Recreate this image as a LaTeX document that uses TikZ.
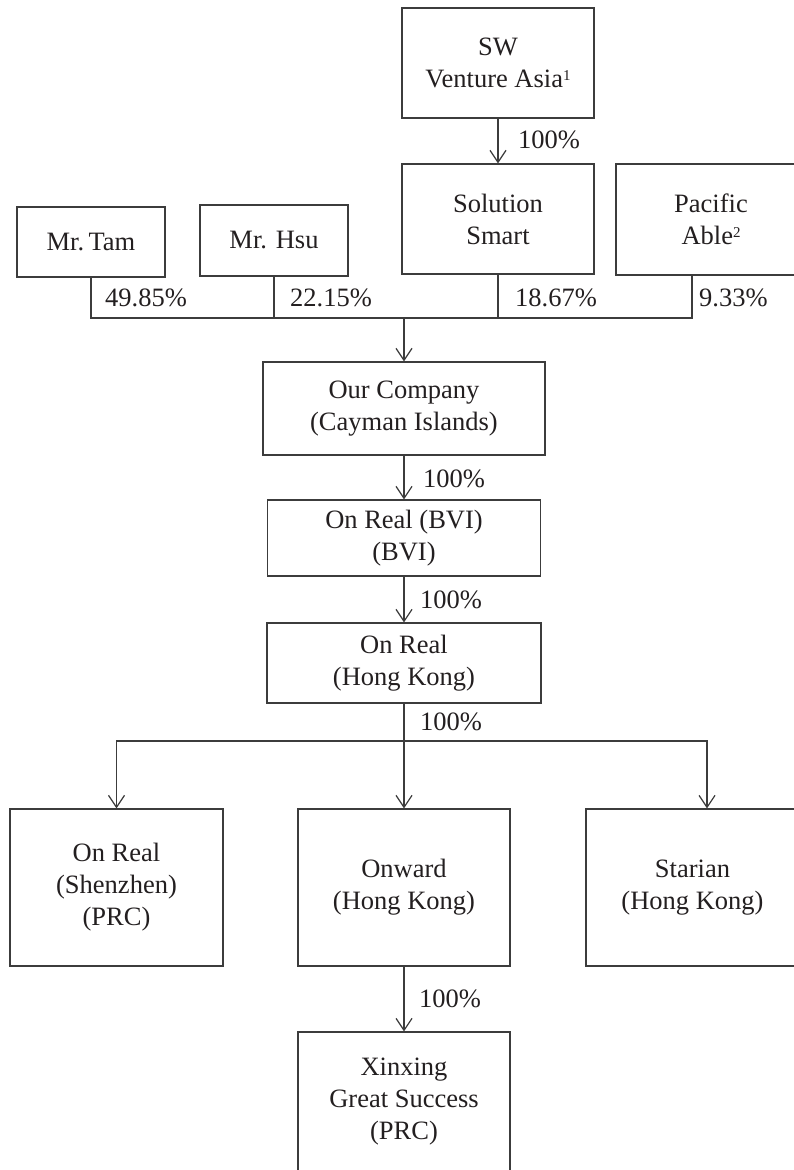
\documentclass[tikz,border=0pt]{standalone}
\usepackage{fontspec}
\setmainfont{Liberation Serif}
\usetikzlibrary{arrows.meta}
\definecolor{ink}{RGB}{35,31,32}
\definecolor{linecol}{RGB}{60,60,60}
\newcommand{\supnum}[1]{\raisebox{7.5pt}{\fontsize{15}{15}\selectfont #1}}
\tikzset{
  orgbox/.style={draw=linecol, line width=1.2pt, align=center, inner sep=0pt,
    text=ink, font=\fontsize{26.5}{32}\selectfont},
  pct/.style={anchor=base west, inner sep=0pt, text=ink, font=\fontsize{26.5}{32}\selectfont},
  conn/.style={draw=linecol, line width=1.2pt},
  arr/.style={conn, -{Straight Barb[length=12pt,width=16pt,line width=1.2pt]}},
}
\begin{document}
\begin{tikzpicture}[x=1pt,y=-1pt]
\useasboundingbox (0,0) rectangle (794,1170);
\clip (0,0) rectangle (794,1170);
% top
\node[orgbox, minimum width=192pt, minimum height=110pt] (sw) at (498,63) {SW\\Venture Asia\supnum{1}};
\node[orgbox, minimum width=192pt, minimum height=110pt] (sol) at (498,219) {Solution\\Smart};
\node[orgbox, minimum width=190pt, minimum height=111pt] (pac) at (711,219.5) {Pacific\\Able\supnum{2}};
\node[orgbox, minimum width=148pt, minimum height=70pt] (tam) at (91,242) {Mr.\,Tam};
\node[orgbox, minimum width=148pt, minimum height=71pt] (hsu) at (274,240.5) {Mr. Hsu};
% middle chain
\node[orgbox, minimum width=282pt, minimum height=93pt] (our) at (404,408.5) {Our Company\\(Cayman Islands)};
\node[orgbox, minimum width=273pt, minimum height=76pt] (bvi) at (404,538) {On Real (BVI)\\(BVI)};
\node[orgbox, minimum width=274pt, minimum height=80pt] (hk) at (404,663) {On Real\\(Hong Kong)};
% bottom
\node[orgbox, minimum width=213pt, minimum height=157pt] (shz) at (116.5,887.5) {On Real\\(Shenzhen)\\(PRC)};
\node[orgbox, minimum width=212pt, minimum height=157pt] (onw) at (404,887.5) {Onward\\(Hong Kong)};
\node[orgbox, minimum width=213pt, minimum height=157pt] (sta) at (692.5,887.5) {Starian\\(Hong Kong)};
\node[orgbox, minimum width=212pt, minimum height=140pt] (xin) at (404,1102) {Xinxing\\Great Success\\(PRC)};
% connectors
\coordinate (bar) at (404,318);
\coordinate (split) at (404,741);
\draw[arr] (sw.south) -- (sol.north);
\draw[conn] (tam.south) |- (bar);
\draw[conn] (hsu.south) -- (hsu.south |- bar);
\draw[conn] (sol.south) -- (sol.south |- bar);
\draw[conn] ([xshift=-19pt]pac.south) |- (bar);
\draw[arr] (bar) -- (our.north);
\draw[arr] (our.south) -- (bvi.north);
\draw[arr] (bvi.south) -- (hk.north);
\draw[conn] (hk.south) -- (split);
\draw[arr] (split) -| (shz.north);
\draw[arr] (split) -- (onw.north);
\draw[arr] (split) -| ([xshift=14.5pt]sta.north);
\draw[arr] (onw.south) -- (xin.north);
% labels
\node[pct] (l1) at (518,148) {100\%};
\node[pct] (l2) at (105,306) {49.85\%};
\node[pct] (l3) at (290,306) {22.15\%};
\node[pct] (l4) at (515,306) {18.67\%};
\node[pct] (l5) at (699,306) {9.33\%};
\node[pct] (l6) at (423,487) {100\%};
\node[pct] (l7) at (420,608) {100\%};
\node[pct] (l8) at (420,730) {100\%};
\node[pct] (l9) at (419,1007) {100\%};
\end{tikzpicture}
\end{document}
